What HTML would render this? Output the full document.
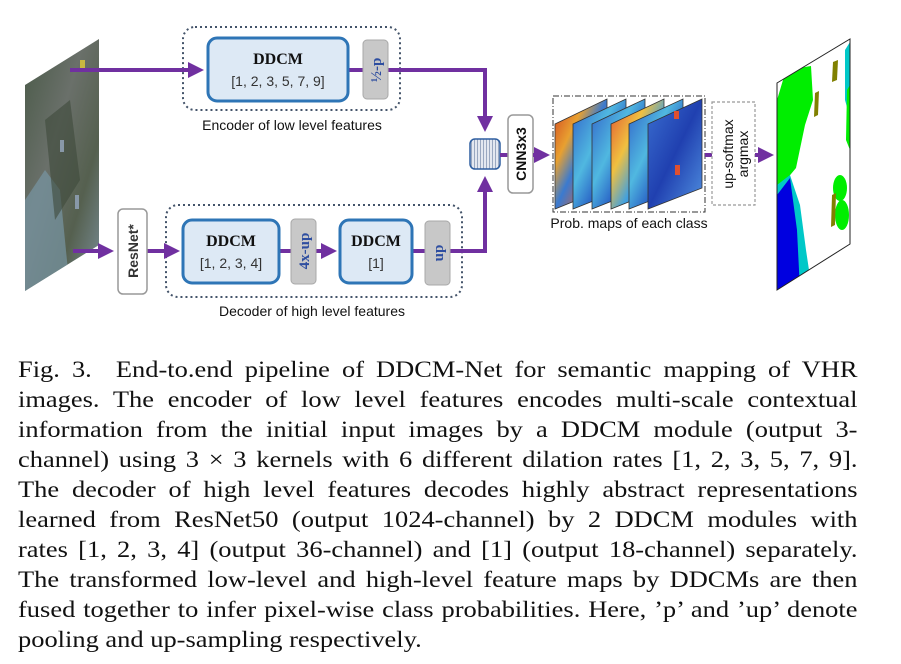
<!DOCTYPE html>
<html><head><meta charset="utf-8">
<style>
body{margin:0;background:#fff;width:901px;height:664px;overflow:hidden;position:relative;font-family:"Liberation Sans",sans-serif}
svg{position:absolute;left:0;top:0}
#cap{position:absolute;left:18px;top:355px;width:730px;font-family:"Liberation Serif",serif;font-size:23px;line-height:30px;color:#111;transform:scaleX(1.15);transform-origin:0 0}
#cap div{text-align:justify;text-align-last:justify;white-space:nowrap}
#cap div.last{text-align-last:left}
</style></head><body>
<svg width="901" height="350" viewBox="0 0 901 350">
<defs>
<marker id="ah" markerWidth="4" markerHeight="4" refX="3" refY="2" orient="auto" markerUnits="strokeWidth"><path d="M0,0 L4,2 L0,4 z" fill="#7030a0"/></marker>
<linearGradient id="aerial" x1="0" y1="0" x2="1" y2="1"><stop offset="0" stop-color="#4a5a48"/><stop offset="0.4" stop-color="#6a706a"/><stop offset="0.7" stop-color="#55604f"/><stop offset="1" stop-color="#7a8e98"/></linearGradient>
<linearGradient id="hm1" x1="0" y1="0" x2="1" y2="1"><stop offset="0" stop-color="#d04020"/><stop offset="0.3" stop-color="#e8a030"/><stop offset="0.5" stop-color="#3a7ad0"/><stop offset="0.8" stop-color="#e06030"/><stop offset="1" stop-color="#60c0d0"/></linearGradient>
<linearGradient id="hm2" x1="0" y1="0" x2="1" y2="1"><stop offset="0" stop-color="#3060c8"/><stop offset="0.4" stop-color="#50b8e0"/><stop offset="0.7" stop-color="#2050c0"/><stop offset="1" stop-color="#70d0c0"/></linearGradient>
<linearGradient id="hm3" x1="0" y1="0" x2="1" y2="1"><stop offset="0" stop-color="#e05030"/><stop offset="0.35" stop-color="#f0c040"/><stop offset="0.6" stop-color="#40a0e0"/><stop offset="1" stop-color="#c04020"/></linearGradient>
<linearGradient id="hm4" x1="0" y1="0" x2="1" y2="1"><stop offset="0" stop-color="#3a6ed0"/><stop offset="0.5" stop-color="#2040b0"/><stop offset="1" stop-color="#5090e0"/></linearGradient>
<pattern id="stripes" width="3" height="10" patternUnits="userSpaceOnUse"><rect width="3" height="10" fill="#e4e8f0"/><rect width="1" height="10" fill="#9aa8c0"/></pattern>
<clipPath id="outclip"><polygon points="777,83 850,39 850,244 777,290"/></clipPath>
<clipPath id="inclip"><polygon points="25,85 99,39 99,245 25,291"/></clipPath>
</defs>

<!-- input image -->
<g clip-path="url(#inclip)">
<rect x="25" y="39" width="74" height="252" fill="url(#aerial)"/>
<path d="M25,200 L45,170 L60,190 L70,291 L25,291 Z" fill="#7896a4" opacity="0.7"/>
<path d="M45,120 L70,100 L80,180 L55,220 Z" fill="#3e4a3a" opacity="0.6"/>
<rect x="80" y="60" width="5" height="10" fill="#c8b840"/>
<rect x="60" y="140" width="4" height="12" fill="#8898a8"/>
<rect x="75" y="195" width="4" height="14" fill="#8898a8"/>
</g>

<!-- encoder -->
<rect x="183" y="27" width="217" height="83" rx="12" fill="none" stroke="#44546a" stroke-width="2" stroke-dasharray="2,3"/>
<line x1="70" y1="70" x2="200" y2="70" stroke="#7030a0" stroke-width="4" marker-end="url(#ah)"/>
<line x1="348" y1="70" x2="363" y2="70" stroke="#7030a0" stroke-width="4"/>
<polyline points="388,70 485,70 485,128" fill="none" stroke="#7030a0" stroke-width="4" marker-end="url(#ah)"/>
<rect x="208" y="38" width="140" height="63" rx="9" fill="#dde9f5" stroke="#2e75b6" stroke-width="3"/>
<text x="278" y="64" text-anchor="middle" font-family="Liberation Serif,serif" font-weight="bold" font-size="16" fill="#111">DDCM</text>
<text x="278" y="86" text-anchor="middle" font-size="14" fill="#333">[1, 2, 3, 5, 7, 9]</text>
<rect x="363" y="40" width="25" height="59" rx="4" fill="#c8c8c8" stroke="#a8a8a8"/>
<text transform="translate(381,70) rotate(-90)" text-anchor="middle" font-family="Liberation Serif,serif" font-weight="bold" font-size="15" fill="#2e4ea0">½-p</text>
<text x="292" y="130" text-anchor="middle" font-size="14" fill="#111">Encoder of low level features</text>

<!-- decoder -->
<rect x="166" y="205" width="296" height="92" rx="12" fill="none" stroke="#44546a" stroke-width="2" stroke-dasharray="2,3"/>
<line x1="73" y1="251" x2="110" y2="251" stroke="#7030a0" stroke-width="4" marker-end="url(#ah)"/>
<line x1="147" y1="251" x2="176" y2="251" stroke="#7030a0" stroke-width="4" marker-end="url(#ah)"/>
<line x1="279" y1="251" x2="291" y2="251" stroke="#7030a0" stroke-width="4"/>
<line x1="316" y1="251" x2="333" y2="251" stroke="#7030a0" stroke-width="4" marker-end="url(#ah)"/>
<line x1="412" y1="251" x2="425" y2="251" stroke="#7030a0" stroke-width="4"/>
<polyline points="450,251 485,251 485,180" fill="none" stroke="#7030a0" stroke-width="4" marker-end="url(#ah)"/>
<rect x="118" y="209" width="29" height="85" rx="5" fill="#fff" stroke="#999" stroke-width="1.5"/>
<text transform="translate(138,251) rotate(-90)" text-anchor="middle" font-weight="bold" font-size="14" fill="#333">ResNet*</text>
<rect x="183" y="220" width="96" height="63" rx="9" fill="#dde9f5" stroke="#2e75b6" stroke-width="3"/>
<text x="231" y="246" text-anchor="middle" font-family="Liberation Serif,serif" font-weight="bold" font-size="16" fill="#111">DDCM</text>
<text x="231" y="268" text-anchor="middle" font-size="14" fill="#333">[1, 2, 3, 4]</text>
<rect x="291" y="219" width="25" height="65" rx="4" fill="#c8c8c8" stroke="#a8a8a8"/>
<text transform="translate(309,251) rotate(-90)" text-anchor="middle" font-family="Liberation Serif,serif" font-weight="bold" font-size="15" fill="#2e4ea0">4x-up</text>
<rect x="340" y="220" width="72" height="63" rx="9" fill="#dde9f5" stroke="#2e75b6" stroke-width="3"/>
<text x="376" y="246" text-anchor="middle" font-family="Liberation Serif,serif" font-weight="bold" font-size="16" fill="#111">DDCM</text>
<text x="376" y="268" text-anchor="middle" font-size="14" fill="#333">[1]</text>
<rect x="425" y="221" width="25" height="64" rx="4" fill="#c8c8c8" stroke="#a8a8a8"/>
<text transform="translate(443,253) rotate(-90)" text-anchor="middle" font-family="Liberation Serif,serif" font-weight="bold" font-size="15" fill="#2e4ea0">up</text>
<text x="312" y="316" text-anchor="middle" font-size="14" fill="#111">Decoder of high level features</text>

<!-- concat -->
<rect x="470" y="139" width="30" height="30" rx="5" fill="url(#stripes)" stroke="#2e5ea0" stroke-width="1.5"/>
<line x1="500" y1="155" x2="508" y2="155" stroke="#7030a0" stroke-width="4"/>
<rect x="508" y="115" width="25" height="78" rx="5" fill="#fff" stroke="#999" stroke-width="1.5"/>
<text transform="translate(526,154) rotate(-90)" text-anchor="middle" font-weight="bold" font-size="14" fill="#111">CNN3x3</text>
<line x1="533" y1="155" x2="546" y2="155" stroke="#7030a0" stroke-width="4" marker-end="url(#ah)"/>

<!-- prob maps -->
<rect x="553" y="96" width="152" height="116" fill="none" stroke="#333" stroke-width="1" stroke-dasharray="6,2,1,2"/>
<g stroke="#333" stroke-width="0.8">
<polygon points="555,124 607,99 607,188 555,209" fill="url(#hm1)"/>
<polygon points="573,124 626,99 626,188 573,209" fill="url(#hm2)"/>
<polygon points="592,124 645,99 645,188 592,209" fill="url(#hm2)"/>
<polygon points="611,124 664,99 664,188 611,209" fill="url(#hm3)"/>
<polygon points="629,124 683,99 683,188 629,209" fill="url(#hm2)"/>
<polygon points="648,124 702,99 702,188 648,209" fill="url(#hm4)"/>
</g>
<rect x="674" y="111" width="5" height="8" fill="#e05030"/>
<rect x="675" y="165" width="5" height="10" fill="#e05030"/>
<text x="629" y="228" text-anchor="middle" font-size="14" fill="#111">Prob. maps of each class</text>
<line x1="705" y1="155" x2="712" y2="155" stroke="#7030a0" stroke-width="4"/>
<rect x="712" y="102" width="43" height="103" fill="#fff" stroke="#999" stroke-width="1.2" stroke-dasharray="3,2"/>
<text transform="translate(733,154) rotate(-90)" text-anchor="middle" font-size="14" fill="#111">up-softmax</text>
<text transform="translate(748,154) rotate(-90)" text-anchor="middle" font-size="14" fill="#111">argmax</text>
<line x1="755" y1="155" x2="770" y2="155" stroke="#7030a0" stroke-width="4" marker-end="url(#ah)"/>

<!-- output -->
<g clip-path="url(#outclip)">
<rect x="777" y="39" width="73" height="251" fill="#fff"/>
<path d="M786,70 L811,66 L813,100 L805,125 L796,168 L786,180 L777,185 L777,100 Z" fill="#00ee00"/>
<path d="M777,185 L790,175 L800,205 L806,250 L812,290 L777,290 Z" fill="#00c8c8"/>
<path d="M777,195 L790,178 L797,230 L800,290 L777,290 Z" fill="#0000e0"/>
<path d="M845,50 L850,42 L850,118 L845,100 Z" fill="#00c8c8"/>
<path d="M847,90 L850,85 L850,150 L846,140 Z" fill="#00ee00"/>
<ellipse cx="840" cy="188" rx="7" ry="13" fill="#00ee00"/>
<ellipse cx="842" cy="215" rx="7" ry="15" fill="#00ee00"/>
<path d="M832,195 L836,193 L835,225 L831,227 Z" fill="#808000"/>
<path d="M815,93 L819,91 L818,115 L814,117 Z" fill="#808000"/>
<path d="M833,62 L838,60 L837,80 L832,82 Z" fill="#808000"/>
</g>
<polygon points="777,83 850,39 850,244 777,290" fill="none" stroke="#222" stroke-width="1"/>
</svg>

<div id="cap">
<div>Fig. 3.&nbsp; End-to.end pipeline of DDCM-Net for semantic mapping of VHR</div>
<div>images. The encoder of low level features encodes multi-scale contextual</div>
<div>information from the initial input images by a DDCM module (output 3-</div>
<div>channel) using 3 × 3 kernels with 6 different dilation rates [1, 2, 3, 5, 7, 9].</div>
<div>The decoder of high level features decodes highly abstract representations</div>
<div>learned from ResNet50 (output 1024-channel) by 2 DDCM modules with</div>
<div>rates [1, 2, 3, 4] (output 36-channel) and [1] (output 18-channel) separately.</div>
<div>The transformed low-level and high-level feature maps by DDCMs are then</div>
<div>fused together to infer pixel-wise class probabilities. Here, ’p’ and ’up’ denote</div>
<div class="last">pooling and up-sampling respectively.</div>
</div>
</body></html>
